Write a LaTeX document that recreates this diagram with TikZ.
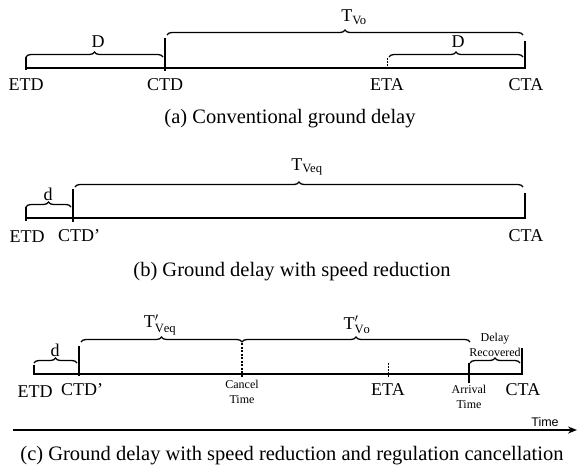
\documentclass[tikz,border=0pt]{standalone}
\usepackage{fontspec}
\setmainfont{Liberation Serif}
\newfontfamily\sansf{Liberation Sans}
\usetikzlibrary{decorations.pathreplacing,arrows.meta}
\newcommand{\Tp}[1]{$\mathrm{T}'_{\mathrm{#1}}$}
\newcommand{\sq}{\char"0027\relax}
\begin{document}
\begin{tikzpicture}[x=1pt,y=-1pt,
  tl/.style={line width=1.5pt},
  tk/.style={line width=1.4pt},
  br/.style={decorate,decoration={brace,amplitude=5pt},line width=1.3pt},
  lab/.style={font=\fontsize{18}{20}\selectfont,inner sep=0pt},
  captext/.style={font=\fontsize{20.5}{22}\selectfont,inner sep=0pt},
  sm/.style={font=\fontsize{12}{15}\selectfont,inner sep=0pt,align=center},
  thindot/.style={line width=1pt,dash pattern=on 1.5pt off 1.5pt},
  thickdot/.style={line width=2pt,dash pattern=on 2pt off 1.5pt}]
\useasboundingbox (0,0) rectangle (584,475);
% ---------- (a) ----------
\draw[tl] (26,68) -- (525,68);
\draw[tk] (26,57) -- (26,70);
\draw[tk] (165,38) -- (165,71);
\draw[thindot] (387,58) -- (387,69);
\draw[tk] (525,41) -- (525,69);
\node[lab] (aetd) at (26,85) {ETD};
\node[lab] (actd) at (165,85) {CTD};
\node[lab] (aeta) at (387,85) {ETA};
\node[lab] (acta) at (526,85) {CTA};
\draw[br] (26,57) -- (163,57);
\node[lab] (aD1) at (98,42) {D};
\draw[br] (167,35) -- (523,35);
\node[lab] (aT) at (354,17) {T\textsubscript{Vo}};
\draw[br] (389,57) -- (523,57);
\node[lab] (aD2) at (458,42) {D};
\node[captext] (capa) at (290,119) {(a) Conventional ground delay};
% ---------- (b) ----------
\draw[tl] (26,218) -- (525,218);
\draw[tk] (26,207) -- (26,221);
\draw[tk] (73,189) -- (73,222);
\draw[tk] (525,193) -- (525,219);
\node[lab] (betd) at (27,237) {ETD};
\node[lab] (bctd) at (79,236) {CTD\sq};
\node[lab] (bcta) at (526,236) {CTA};
\draw[br] (26,207) -- (71,207);
\node[lab] (bd) at (48,194) {d};
\draw[br] (75,187) -- (523,187);
\node[lab] (bT) at (307,167) {T\textsubscript{Veq}};
\node[captext] (capb) at (292,272) {(b) Ground delay with speed reduction};
% ---------- (c) ----------
\draw[tl] (34,374) -- (521,374);
\draw[tk] (34,365) -- (34,375);
\draw[tk] (79,346) -- (79,376);
\draw[thickdot] (242,343) -- (242,378);
\draw[thindot] (388,363) -- (388,377);
\draw[tk] (469,363) -- (469,383);
\draw[tk] (522,348) -- (522,375);
\node[lab] (cetd) at (35,392) {ETD};
\node[lab] (cctd) at (82,390) {CTD\sq};
\node[sm] (ccan) at (242,392) {Cancel\\Time};
\node[lab] (ceta) at (388,390) {ETA};
\node[sm] (carr) at (469,397) {Arrival\\Time};
\node[lab] (ccta) at (523,390) {CTA};
\draw[br] (34,363) -- (77,363);
\node[lab] (cd) at (55,350) {d};
\draw[br] (81,342) -- (242,342);
\node[lab] (cT1) at (160,325) {\Tp{Veq}};
\draw[br] (242,342) -- (470,342);
\node[lab] (cT2) at (357,325) {\Tp{Vo}};
\draw[br] (470,363) -- (520,363);
\node[sm] (cdr) at (495,345) {Delay\\Recovered};
\coordinate (tstart) at (13,430);
\coordinate (tend) at (577,430);
\draw[line width=1.6pt,-{Stealth[length=9pt,width=7pt]}] (tstart) -- (tend);
\node[font=\sansf\fontsize{12.5}{13}\selectfont,inner sep=0pt] (ctime) at (545,422) {Time};
\node[captext] (capc) at (292,456) {(c) Ground delay with speed reduction and regulation cancellation};
\end{tikzpicture}
\end{document}
